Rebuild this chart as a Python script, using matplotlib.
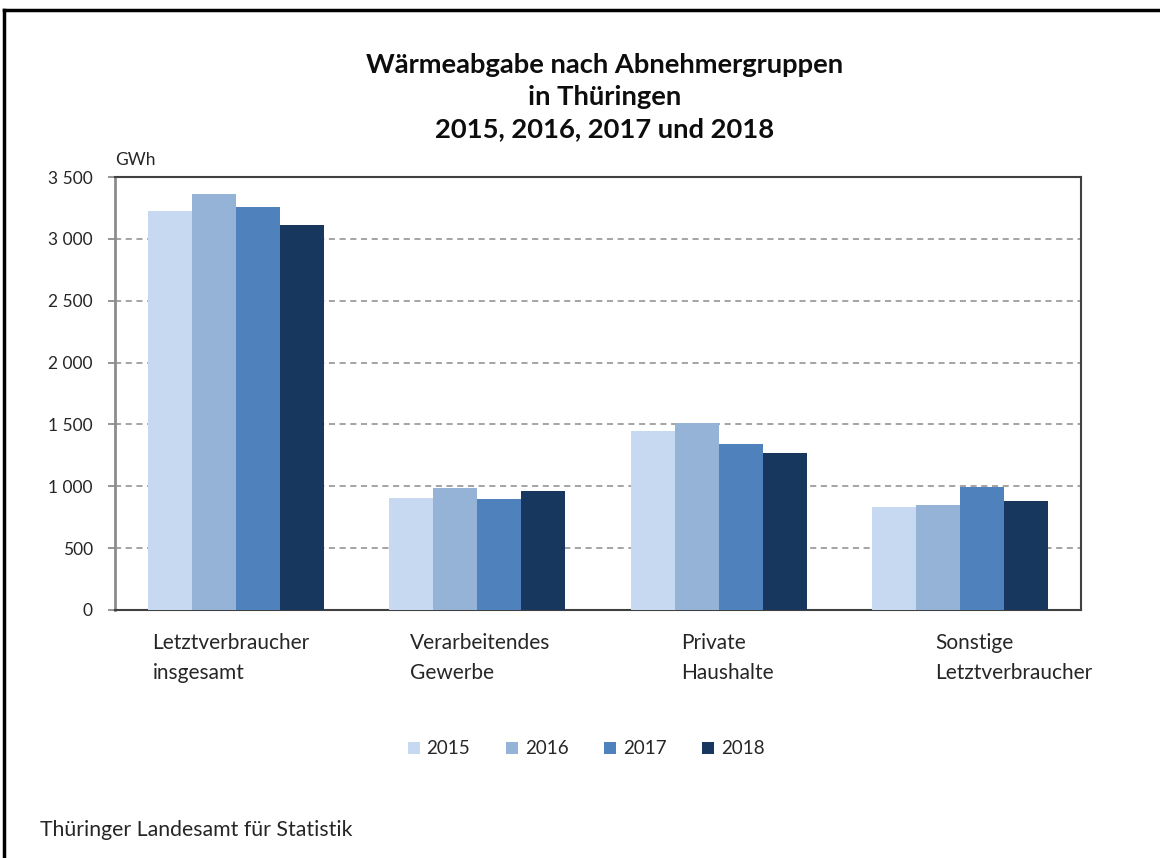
import matplotlib
matplotlib.use("Agg")
import matplotlib.pyplot as plt
from matplotlib.lines import Line2D
from matplotlib.patches import Patch
import numpy as np

plt.rcParams['font.family'] = ['Lato', 'DejaVu Sans']

categories = ["Letztverbraucher\ninsgesamt", "Verarbeitendes\nGewerbe",
              "Private\nHaushalte", "Sonstige\nLetztverbraucher"]
years = ["2015", "2016", "2017", "2018"]
v2015 = [3225, 908, 1447, 835]
v2016 = [3362, 989, 1511, 849]
v2017 = [3257, 900, 1339, 997]
v2018 = [3112, 964, 1266, 878]
series = [v2015, v2016, v2017, v2018]
colors = ["#C6D9F1", "#95B3D7", "#4F81BD", "#17375E"]
yticks = [0, 500, 1000, 1500, 2000, 2500, 3000, 3500]
ytick_labels = ["0", "500", "1 000", "1 500", "2 000", "2 500", "3 000", "3 500"]

# layout: left edge of each category label relative to the category centre (axis units)
label_offsets = [-0.345, -0.28, -0.157, -0.104]

W, H = 1160, 858
fig = plt.figure(figsize=(W / 100, H / 100), dpi=100)
ax = fig.add_axes([115 / W, 1 - 610 / H, (1081 - 115) / W, (610 - 177) / H])

x = np.arange(len(categories)) + 0.5
bw = 44 / 241.5
for i, (vals, c) in enumerate(zip(series, colors)):
    ax.bar(x + (i - 1.5) * bw, vals, width=bw, color=c, edgecolor='none', zorder=3)

ax.set_xlim(0, 4)
ax.set_ylim(0, 3500)
ax.set_yticks(yticks)
ax.set_yticklabels(ytick_labels, fontsize=12.5, color="#262626")
for y in yticks[1:-1]:
    ax.axhline(y, color="#8C8C8C", lw=1.1, ls=(0, (4, 3)), zorder=1)

ax.set_xticks(x)
ax.set_xticklabels([""] * len(categories))
ax.tick_params(axis='x', length=0)
ax.tick_params(axis='y', length=5, width=1.3, color="#8C8C8C", pad=11)

xform = ax.get_xaxis_transform()
for xi, lab, off in zip(x, categories, label_offsets):
    ax.text(xi + off, -0.053, lab, transform=xform, fontsize=15, color="#262626",
            ha='left', va='top', linespacing=1.62)

for s in ['top', 'right', 'bottom']:
    ax.spines[s].set_color("#404040")
    ax.spines[s].set_linewidth(1.5)
ax.spines['left'].set_color("#8C8C8C")
ax.spines['left'].set_linewidth(2)

fig.text(115 / W, 1 - 160 / H, "GWh", fontsize=12.5, color="#262626", ha='left', va='center')

fig.text(605 / W, 1 - 97 / H,
         "Wärmeabgabe nach Abnehmergruppen\nin Thüringen\n2015, 2016, 2017 und 2018",
         fontsize=19.7, fontweight='bold', ha='center', va='center', linespacing=1.4,
         color="#0D0D0D")

handles = [Patch(facecolor=c, edgecolor='none') for c in colors]
fig.legend(handles, years, loc='center', bbox_to_anchor=(586 / W, 1 - 749 / H),
           ncol=4, frameon=False, fontsize=13.5, handlelength=0.65, handleheight=0.65,
           columnspacing=1.9, handletextpad=0.35, labelcolor="#262626")

fig.text(40 / W, 1 - 830 / H, "Thüringer Landesamt für Statistik", fontsize=15.3,
         color="#262626", ha='left', va='center')

fig.add_artist(Line2D([4 / W, 4 / W], [0, 1 - 10 / H], color='black', lw=2.5,
                      transform=fig.transFigure))
fig.add_artist(Line2D([4 / W, 1], [1 - 10 / H, 1 - 10 / H], color='black', lw=2.5,
                      transform=fig.transFigure))

fig.savefig("out.png", dpi=100)
